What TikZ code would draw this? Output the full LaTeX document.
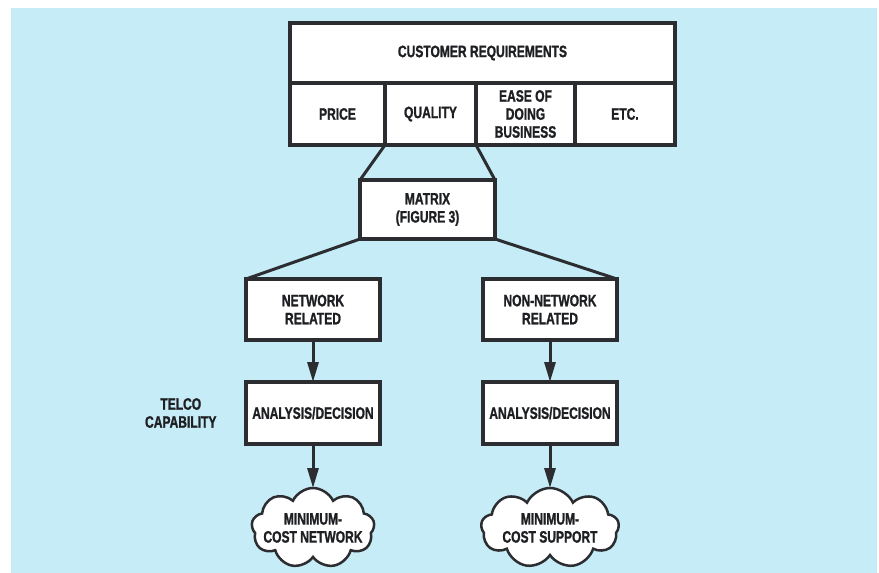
\documentclass[tikz,border=0pt]{standalone}
\usepackage{fontspec}
\usepackage{tikz}
\usetikzlibrary{arrows.meta, positioning, shapes.symbols}
\newfontfamily\condfont{Liberation Sans}[FakeStretch=0.73, BoldFeatures={FakeBold=1.2}]
\definecolor{chartbg}{HTML}{C6ECF7}
\definecolor{chartline}{HTML}{2B2D30}
\definecolor{charttext}{HTML}{1E1F22}
\newcommand{\chartfont}{\condfont\bfseries\fontsize{16.5}{18}\selectfont}
\tikzset{
  box/.style={draw=chartline, line width=3.5pt, fill=white, align=center,
              font=\chartfont, text=charttext, inner sep=0pt, outer sep=0pt},
  cellbox/.style={box, minimum height=62pt},
  stagebox/.style={box, minimum width=134pt, minimum height=61pt},
  cloudbox/.style={cloud, cloud puffs=9, cloud puff arc=130, cloud ignores aspect,
              draw=chartline, line width=2.5pt, fill=white, inner sep=0pt, outer sep=0pt,
              minimum height=80pt},
  cloudtxt/.style={align=center, text=charttext, font=\chartfont},
  link/.style={draw=chartline, line width=3pt},
  flow/.style={-{Triangle[length=20pt, width=11pt]}, line width=3pt, draw=chartline},
  lbl/.style={align=center, text=charttext, font=\chartfont},
}
\begin{document}
\begin{tikzpicture}[x=1pt, y=-1pt]
  \useasboundingbox[fill=white] (0,0) rectangle (879,573);
  \fill[chartbg] (11,8) rectangle (877,573);

  % requirements table
  \node[box, minimum width=385pt, minimum height=60pt] (req) at (482.5,53) {CUSTOMER REQUIREMENTS};
  \node[cellbox, minimum width=95pt, below right=0pt and 0pt of req.south west] (price) {PRICE};
  \node[cellbox, minimum width=91pt, right=0pt of price] (quality) {QUALITY};
  \node[cellbox, minimum width=99pt, right=0pt of quality] (ease) {EASE OF\\ DOING\\ BUSINESS};
  \node[cellbox, minimum width=100pt, right=0pt of ease] (etc) {ETC.};

  \node[box, minimum width=135pt, minimum height=59pt] (matrix) at (427.5,209.5) {MATRIX\\ (FIGURE 3)};

  \node[stagebox] (net) at (313,309.5) {NETWORK\\ RELATED};
  \node[stagebox] (nonnet) at (550,309.5) {NON-NETWORK\\ RELATED};
  \node[stagebox, minimum height=62pt, below=42pt of net] (ana1) {ANALYSIS/DECISION};
  \node[stagebox, minimum height=62pt, below=42pt of nonnet] (ana2) {ANALYSIS/DECISION};
  \node[lbl, left=26pt of ana1] (telco) {TELCO\\ CAPABILITY};

  \node[cloudbox, minimum width=123pt, below=44pt of ana1,
        label={[cloudtxt]center:MINIMUM-\\ COST NETWORK}] (cost1) {};
  \node[cloudbox, minimum width=138pt, below=44pt of ana2,
        label={[cloudtxt]center:MINIMUM-\\ COST SUPPORT}] (cost2) {};

  % connectors
  \draw[link] (quality.south west) -- (matrix.north west);
  \draw[link] (quality.south east) -- (matrix.north east);
  \draw[link] (matrix.south west) -- (net.north west);
  \draw[link] (matrix.south east) -- (nonnet.north east);
  \draw[flow] (net) -- (ana1);
  \draw[flow] (nonnet) -- (ana2);
  \draw[flow] (ana1) -- (cost1);
  \draw[flow] (ana2) -- (cost2);
\end{tikzpicture}
\end{document}
